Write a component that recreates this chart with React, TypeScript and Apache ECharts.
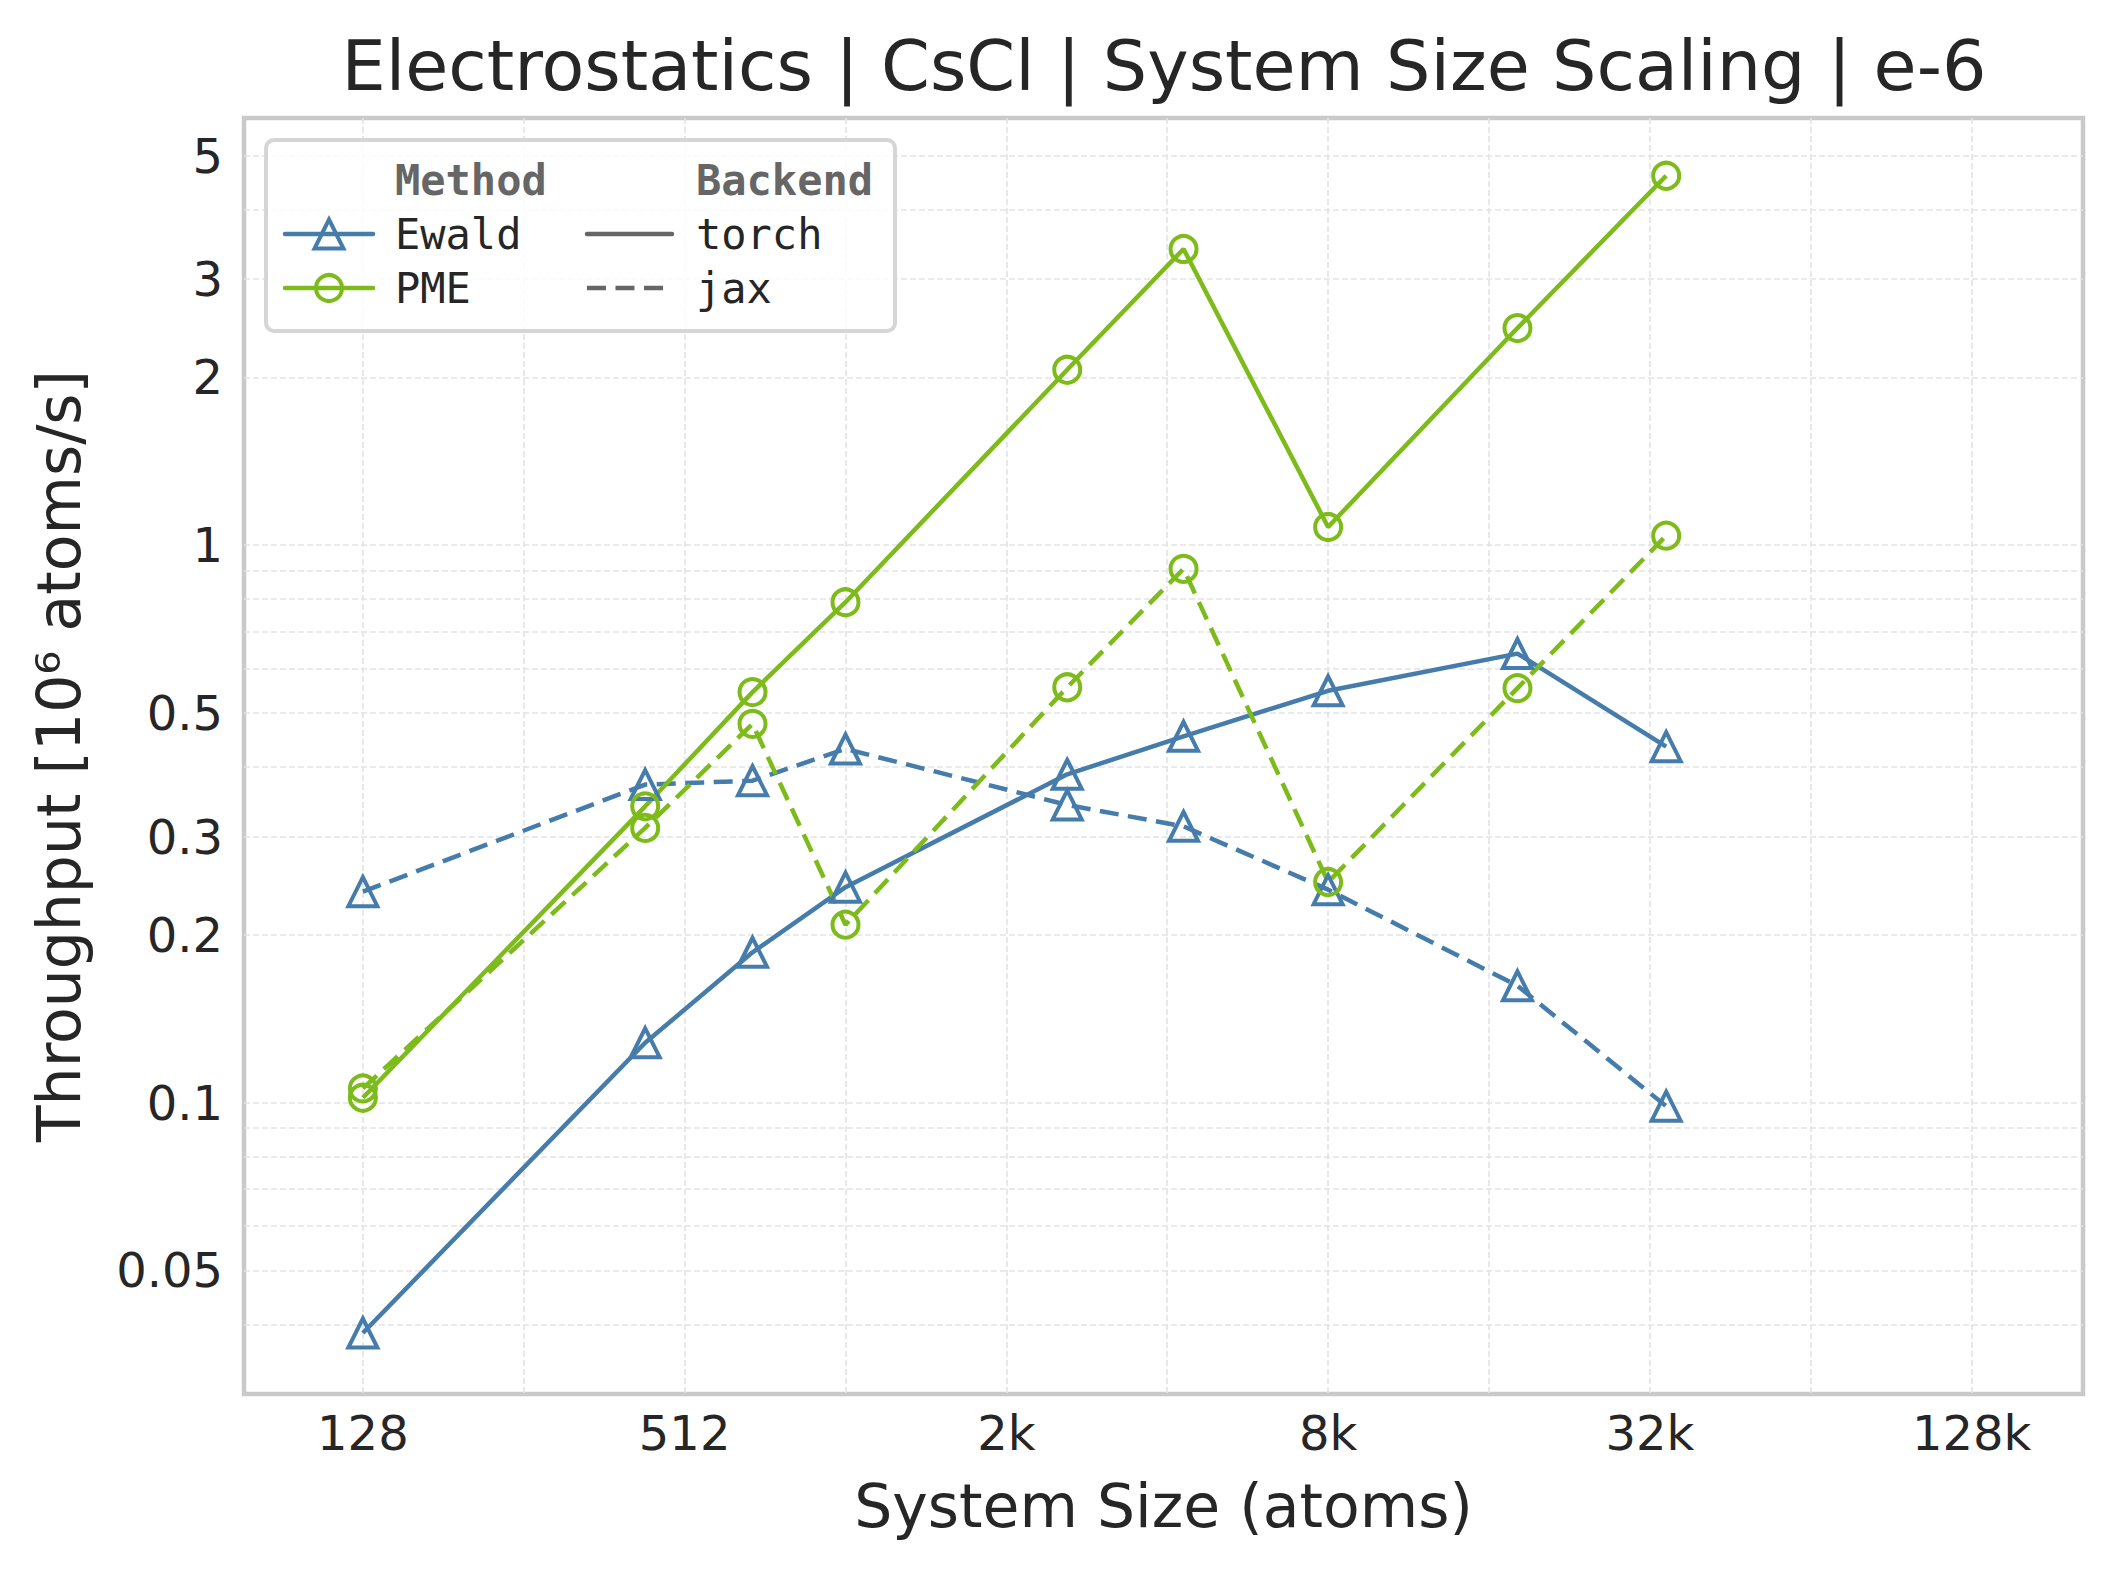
import React, { useEffect, useRef } from 'react';
import * as echarts from 'echarts';

// ---- data ----
const systemSizes = [128, 432, 686, 1024, 2662, 4394, 8192, 18522, 35152];
const ewaldTorch = [0.0386, 0.128, 0.186, 0.2435, 0.388, 0.454, 0.548, 0.639, 0.435];
const ewaldJax = [0.239, 0.372, 0.378, 0.431, 0.342, 0.313, 0.241, 0.162, 0.0985];
const pmeTorch = [0.102, 0.34, 0.545, 0.79, 2.064, 3.4, 1.078, 2.452, 4.6];
const pmeJax = [0.106, 0.311, 0.478, 0.2085, 0.556, 0.907, 0.2487, 0.554, 1.04];

const xGridValues = [128, 256, 512, 1024, 2048, 4096, 8192, 16384, 32768, 65536, 131072];
const xTickLabels = [128, 512, 2048, 8192, 32768, 131072];
const yGridValues = [0.04, 0.05, 0.06, 0.07, 0.08, 0.09, 0.1, 0.2, 0.3, 0.4, 0.5, 0.6, 0.7, 0.8, 0.9, 1, 2, 3, 4, 5];
const yTickLabels = [0.05, 0.1, 0.2, 0.3, 0.5, 1, 2, 3, 5];

const chartTitle = 'Electrostatics | CsCl | System Size Scaling | e-6';
const xAxisTitle = 'System Size (atoms)';
const yAxisTitle = 'Throughput [10\u2076 atoms/s]';
const methodHeader = 'Method';
const backendHeader = 'Backend';
const methods = ['Ewald', 'PME'];
const backends = ['torch', 'jax'];

const BLUE = '#457cab';
const GREEN = '#7dbb1b';
const TEXT = '#262626';
const FONT = '"DejaVu Sans", sans-serif';
const MONO = '"DejaVu Sans Mono", monospace';
const DASH = [19, 9.5];
const LW = 4.5;

const fmtX = (v: number) => (v >= 1024 ? `${Math.round(v / 1024)}k` : `${Math.round(v)}`);
const fmtY = (v: number) => String(Number(v.toPrecision(2)));

function makeSeries(name: string, values: number[], color: string, dashed: boolean, symbol: string, size: number) {
  return {
    name,
    type: 'line',
    data: systemSizes.map((s, i) => [s, values[i]]),
    symbol,
    symbolSize: size,
    showSymbol: true,
    lineStyle: { color, width: LW, type: dashed ? DASH : 'solid' },
    itemStyle: { color: 'rgba(0,0,0,0)', borderColor: color, borderWidth: 4 },
    emphasis: { disabled: true },
    z: 3,
  };
}

export default function App() {
  const ref = useRef<HTMLDivElement>(null);
  useEffect(() => {
    document.body.style.margin = '0';
    document.body.style.overflow = 'hidden';
    const chart = echarts.init(ref.current!, null, { renderer: 'svg' });
    const gridLine = { show: true, lineStyle: { color: '#e4e4e4', width: 1.7, type: [6, 3] } };
    const legendX = 285;
    const legendX2 = 587;
    const row1 = 234;
    const row2 = 288;
    const header = 180;
    const option: any = {
      animation: false,
      backgroundColor: '#ffffff',
      title: {
        text: chartTitle,
        left: 1164,
        top: 31,
        textAlign: 'center',
        padding: 0,
        textStyle: { fontFamily: FONT, fontSize: 70, fontWeight: 'normal', color: TEXT },
      },
      grid: {
        left: 244,
        top: 118,
        width: 1839,
        height: 1276,
        show: true,
        borderColor: '#c9c9c9',
        borderWidth: 4.5,
        backgroundColor: '#ffffff',
        containLabel: false,
      },
      xAxis: {
        type: 'log',
        logBase: 2,
        min: 76.7,
        max: 211800,
        axisLine: { show: false },
        axisTick: { show: false, customValues: xGridValues },
        axisLabel: {
          customValues: xTickLabels,
          formatter: fmtX,
          fontFamily: FONT,
          fontSize: 48,
          color: TEXT,
          margin: 15,
        },
        splitLine: gridLine,
        name: xAxisTitle,
        nameLocation: 'middle',
        nameGap: 82,
        nameTextStyle: { fontFamily: FONT, fontSize: 60, color: TEXT },
      },
      yAxis: {
        type: 'log',
        logBase: 10,
        min: 0.03,
        max: 5.84,
        axisLine: { show: false },
        axisTick: { show: false, customValues: yGridValues },
        axisLabel: {
          customValues: yTickLabels,
          formatter: fmtY,
          fontFamily: FONT,
          fontSize: 48,
          color: TEXT,
          margin: 21,
        },
        splitLine: gridLine,
        name: yAxisTitle,
        nameLocation: 'middle',
        nameRotate: 90,
        nameGap: 155,
        nameTextStyle: { fontFamily: FONT, fontSize: 60, color: TEXT },
      },
      series: [
        makeSeries('Ewald torch', ewaldTorch, BLUE, false, 'triangle', 29),
        makeSeries('Ewald jax', ewaldJax, BLUE, true, 'triangle', 29),
        makeSeries('PME torch', pmeTorch, GREEN, false, 'circle', 26),
        makeSeries('PME jax', pmeJax, GREEN, true, 'circle', 26),
      ],
      graphic: [
        {
          type: 'rect',
          shape: { x: 266, y: 140, width: 629, height: 191, r: 8 },
          style: { fill: 'rgba(255,255,255,0.85)', stroke: '#d6d6d6', lineWidth: 4 },
          z: 10,
        },
        {
          type: 'text', x: 395, y: header, z: 11,
          style: { text: methodHeader, font: `bold 42px ${MONO}`, fill: '#666666', verticalAlign: 'middle' },
        },
        {
          type: 'text', x: 696, y: header, z: 11,
          style: { text: backendHeader, font: `bold 42px ${MONO}`, fill: '#666666', verticalAlign: 'middle' },
        },
        {
          type: 'line', z: 11,
          shape: { x1: legendX, y1: row1, x2: legendX + 88, y2: row1 },
          style: { stroke: BLUE, lineWidth: LW, lineCap: 'round' },
        },
        {
          type: 'polygon', z: 12,
          shape: { points: [[329, row1 - 14.5], [343.5, row1 + 14.5], [314.5, row1 + 14.5]] },
          style: { fill: 'none', stroke: BLUE, lineWidth: 4 },
        },
        {
          type: 'text', x: 395, y: row1, z: 11,
          style: { text: methods[0], font: `42px ${MONO}`, fill: TEXT, verticalAlign: 'middle' },
        },
        {
          type: 'line', z: 11,
          shape: { x1: legendX, y1: row2, x2: legendX + 88, y2: row2 },
          style: { stroke: GREEN, lineWidth: LW, lineCap: 'round' },
        },
        {
          type: 'circle', z: 12,
          shape: { cx: 329, cy: row2, r: 13 },
          style: { fill: 'none', stroke: GREEN, lineWidth: 4 },
        },
        {
          type: 'text', x: 395, y: row2, z: 11,
          style: { text: methods[1], font: `42px ${MONO}`, fill: TEXT, verticalAlign: 'middle' },
        },
        {
          type: 'line', z: 11,
          shape: { x1: legendX2, y1: row1, x2: legendX2 + 85, y2: row1 },
          style: { stroke: '#666666', lineWidth: LW, lineCap: 'round' },
        },
        {
          type: 'text', x: 696, y: row1, z: 11,
          style: { text: backends[0], font: `42px ${MONO}`, fill: TEXT, verticalAlign: 'middle' },
        },
        {
          type: 'line', z: 11,
          shape: { x1: legendX2, y1: row2, x2: legendX2 + 85, y2: row2 },
          style: { stroke: '#666666', lineWidth: LW, lineDash: DASH },
        },
        {
          type: 'text', x: 696, y: row2, z: 11,
          style: { text: backends[1], font: `42px ${MONO}`, fill: TEXT, verticalAlign: 'middle' },
        },
      ],
    };
    chart.setOption(option);
    return () => chart.dispose();
  }, []);
  return <div ref={ref} style={{ width: 2119, height: 1574 }} />;
}
